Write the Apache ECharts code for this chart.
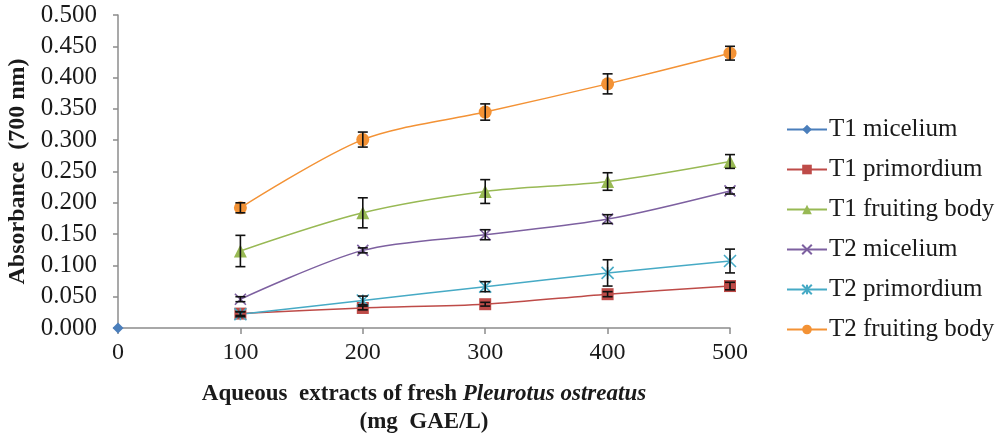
<!DOCTYPE html>
<html>
<head>
<meta charset="utf-8">
<script src="https://cdn.jsdelivr.net/npm/echarts@6/dist/echarts.min.js"></script>
<style>
    html, body { margin: 0; padding: 0; background: #fff; }
    #chart { width: 1000px; height: 440px; }
</style>
</head>
<body>
<div id="chart"></div>
<script>
// concentrations (mg GAE/L)
let xVals = [100, 200, 300, 400, 500];
let seriesNames = ['T1 micelium', 'T1 primordium', 'T1 fruiting body', 'T2 micelium', 'T2 primordium', 'T2 fruiting body'];

// absorbance values
let t1Micelium = [[0, 0]];
let t1Primordium = [0.023, 0.032, 0.038, 0.054, 0.067];
let t1Fruiting = [0.123, 0.184, 0.218, 0.234, 0.266];
let t2Micelium = [0.046, 0.124, 0.149, 0.174, 0.219];
let t2Primordium = [0.022, 0.044, 0.066, 0.088, 0.107];
let t2Fruiting = [0.192, 0.301, 0.345, 0.390, 0.439];

// error bar half-widths
let errT1Primordium = [0.003, 0.003, 0.003, 0.004, 0.006];
let errT1Fruiting = [0.025, 0.024, 0.019, 0.014, 0.011];
let errT2Micelium = [0.004, 0.004, 0.008, 0.007, 0.005];
let errT2Primordium = [0.004, 0.007, 0.008, 0.021, 0.019];
let errT2Fruiting = [0.008, 0.012, 0.013, 0.016, 0.011];

let yTicks = ['0.000', '0.050', '0.100', '0.150', '0.200', '0.250', '0.300', '0.350', '0.400', '0.450', '0.500'];

const FONT = '"Liberation Serif", "DejaVu Serif", serif';

let colors = ['#4a7ebb', '#be4b48', '#98b954', '#7d60a0', '#46aac5', '#f39235'];
let symbols = [
    'diamond',
    'rect',
    'triangle',
    'path://M0,0L10,10M10,0L0,10',
    'path://M0,0L10,10M10,0L0,10M5,0L5,10',
    'circle'
];
let symbolSizes = [11, 12, 13, 11, 12, 13];

function pairs(vals) {
    return vals.map(function(v, i) { return [xVals[i], v]; });
}

let lineData = [t1Micelium, pairs(t1Primordium), pairs(t1Fruiting), pairs(t2Micelium), pairs(t2Primordium), pairs(t2Fruiting)];
let errData = [null, errT1Primordium, errT1Fruiting, errT2Micelium, errT2Primordium, errT2Fruiting];
let lineVals = [null, t1Primordium, t1Fruiting, t2Micelium, t2Primordium, t2Fruiting];

let series = [];
seriesNames.forEach(function(name, i) {
    let isPath = symbols[i].indexOf('path://') === 0;
    series.push({
        name: name,
        type: 'line',
        smooth: 0.3,
        data: lineData[i],
        symbol: symbols[i],
        symbolSize: symbolSizes[i],
        showAllSymbol: true,
        lineStyle: { color: colors[i], width: 1.5 },
        itemStyle: isPath
            ? { color: colors[i], borderColor: colors[i], borderWidth: 1.6 }
            : { color: colors[i], borderWidth: 0 },
        z: 2
    });
});

// error bars
let barItems = [];
errData.forEach(function(errs, i) {
    if (!errs) return;
    errs.forEach(function(e, k) {
        let v = lineVals[i][k];
        barItems.push([xVals[k], v - e, v + e]);
    });
});

function renderErr(params, api) {
    let lo = api.coord([api.value(0), api.value(1)]);
    let hi = api.coord([api.value(0), api.value(2)]);
    let half = 5;
    let st = { stroke: '#111', lineWidth: 1.6 };
    return {
        type: 'group',
        children: [
            { type: 'line', shape: { x1: lo[0], y1: lo[1], x2: hi[0], y2: hi[1] }, style: st },
            { type: 'line', shape: { x1: lo[0] - half, y1: lo[1], x2: lo[0] + half, y2: lo[1] }, style: st },
            { type: 'line', shape: { x1: hi[0] - half, y1: hi[1], x2: hi[0] + half, y2: hi[1] }, style: st }
        ]
    };
}

series.push({
    name: 'err',
    type: 'custom',
    renderItem: renderErr,
    encode: { x: 0, y: [1, 2] },
    data: barItems,
    silent: true,
    z: 3
});

let myChart = echarts.init(document.getElementById('chart'));
let option = {
    animation: false,
    backgroundColor: '#fff',
    grid: { left: 118, right: 270, top: 15, bottom: 112, outerBoundsMode: 'none', containLabel: false },
    legend: {
        data: seriesNames,
        orient: 'vertical',
        left: 781,
        top: 112,
        itemWidth: 40,
        itemHeight: 12,
        itemGap: 15,
        textStyle: { fontFamily: FONT, fontSize: 25, color: '#1a1a1a', padding: [0, 0, 0, -3] }
    },
    xAxis: {
        type: 'value',
        min: 0,
        max: 500,
        interval: 100,
        splitLine: { show: false },
        axisLine: { lineStyle: { color: '#8c8c8c', width: 1.5 } },
        axisTick: { show: true, length: 6, lineStyle: { color: '#8c8c8c', width: 1.5 } },
        axisLabel: { fontFamily: FONT, fontSize: 24, color: '#1a1a1a', margin: 13 },
        name: '{b|Aqueous  extracts of fresh }{i|Pleurotus ostreatus}\n{b|(mg  GAE/L)}',
        nameLocation: 'middle',
        nameGap: 52,
        nameTextStyle: {
            rich: {
                b: { fontFamily: FONT, fontSize: 23, fontWeight: 'bold', color: '#1a1a1a', lineHeight: 28 },
                i: { fontFamily: FONT, fontSize: 23, fontWeight: 'bold', fontStyle: 'italic', color: '#1a1a1a', lineHeight: 28 }
            },
            verticalAlign: 'top'
        }
    },
    yAxis: {
        type: 'value',
        min: 0,
        max: 0.5,
        interval: 0.05,
        splitLine: { show: false },
        axisLine: { show: true, lineStyle: { color: '#8c8c8c', width: 1.5 } },
        axisTick: { show: true, length: 5, lineStyle: { color: '#8c8c8c', width: 1.5 } },
        axisLabel: {
            fontFamily: FONT, fontSize: 25, color: '#1a1a1a', margin: 21,
            formatter: function(v) { return yTicks[Math.round(v / 0.05)]; }
        },
        name: 'Absorbance  (700 nm)',
        nameLocation: 'middle',
        nameGap: 86,
        nameTextStyle: { fontFamily: FONT, fontSize: 24, fontWeight: 'bold', color: '#1a1a1a' }
    },
    series: series
};
myChart.setOption(option);
</script>
</body>
</html>
